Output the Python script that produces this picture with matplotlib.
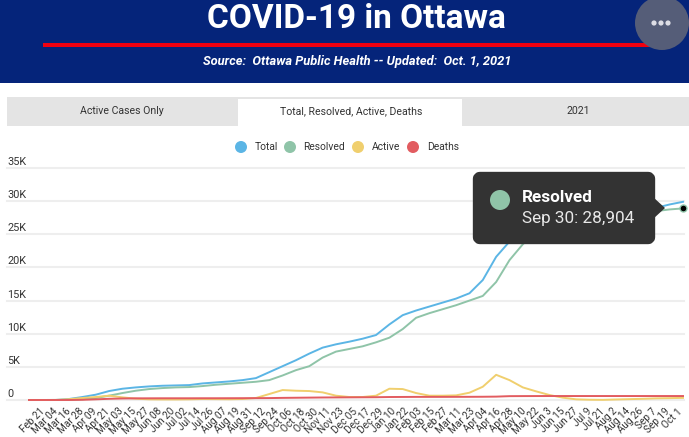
import numpy as np
import matplotlib.pyplot as plt
from matplotlib.patches import Rectangle, Circle, FancyBboxPatch, Polygon

plt.rcParams['font.family'] = ['Roboto', 'DejaVu Sans']

# Valeurs
tick_labels = ["Feb 21", "Mar 04", "Mar 16", "Mar 28", "Apr 09", "Apr 21", "May 03", "May 15", "May 27", "Jun 08",
               "Jun 20", "Jul 02", "Jul 14", "Jul 26", "Aug 07", "Aug 19", "Aug 31", "Sep 12", "Sep 24", "Oct 06",
               "Oct 18", "Oct 30", "Nov 11", "Nov 23", "Dec 05", "Dec 17", "Dec 29", "Jan 10", "Jan 22", "Feb 03",
               "Feb 15", "Feb 27", "Mar 11", "Mar 23", "Apr 04", "Apr 16", "Apr 28", "May 10", "May 22", "Jun 3",
               "Jun 15", "Jun 27", "Jul 9", "Jul 21", "Aug 2", "Aug 14", "Aug 26", "Sep 7", "Sep 19", "Oct 1"]
total = [0, 0, 10, 150, 450, 800, 1350, 1700, 1900, 2050,
         2150, 2200, 2250, 2500, 2650, 2800, 3000, 3300, 4200, 5100,
         6000, 7000, 7900, 8400, 8800, 9250, 9800, 11400, 12800, 13500,
         14100, 14700, 15300, 16100, 18100, 21600, 23900, 26500, 27400, 27800,
         27950, 28050, 28150, 28200, 28300, 28400, 28600, 29000, 29500, 29900]
resolved = [0, 0, 0, 0, 100, 300, 650, 1050, 1400, 1650,
            1800, 1900, 1950, 2100, 2300, 2450, 2600, 2750, 3000, 3700,
            4500, 5100, 6400, 7300, 7700, 8100, 8700, 9400, 10700, 12400,
            13100, 13700, 14300, 15000, 15700, 17800, 21100, 23500, 25300, 26600,
            27400, 27800, 27950, 28000, 28100, 28200, 28350, 28500, 28750, 28904]
active = [0, 0, 10, 120, 300, 450, 650, 400, 200, 100,
          80, 80, 100, 150, 130, 110, 150, 300, 900, 1500,
          1400, 1350, 1150, 650, 450, 450, 650, 1700, 1650, 1050,
          650, 650, 700, 1100, 2000, 3800, 3000, 1900, 1300, 750,
          350, 100, 40, 20, 80, 130, 180, 250, 280, 320]
deaths = [0, 0, 0, 0, 30, 100, 180, 230, 250, 255,
          260, 260, 260, 265, 265, 270, 275, 280, 290, 320,
          340, 360, 380, 390, 400, 410, 420, 450, 460, 470,
          470, 470, 475, 480, 490, 510, 580, 590, 595, 600,
          600, 600, 600, 600, 600, 600, 600, 600, 600, 600]
y_ticks = [0, 5000, 10000, 15000, 20000, 25000, 30000, 35000]
y_labels = ["0", "5K", "10K", "15K", "20K", "25K", "30K", "35K"]
legend_names = ["Total", "Resolved", "Active", "Deaths"]
colors = ["#5BB5E5", "#8FC4A8", "#F0CF6E", "#E25C60"]

W, H = 689, 437
fig = plt.figure(figsize=(W / 100, H / 100), dpi=100)

# Graphique
top, bottom = 168, 400
ax = fig.add_axes([7 / W, (H - bottom) / H, 677 / W, (bottom - top) / H])
x = np.arange(len(tick_labels))
step = 654 / 49
ax.set_xlim(-22 / step, 49 + 1 / step)
ax.set_ylim(0, 35000)
ax.set_yticks(y_ticks)
ax.set_yticklabels([])
ax.set_xticks([])
ax.grid(axis="y", color="#EEEEEE", lw=1.5)
for g in ax.get_ygridlines():
    g.set_clip_on(False)
ax.set_axisbelow(True)
for s in ax.spines.values():
    s.set_visible(False)
ax.tick_params(length=0)
for series, c in zip([total, resolved, active, deaths], colors):
    ax.plot(x, series, color=c, lw=1.4, clip_on=False)
ax.plot(x[-1], resolved[-1], "o", ms=5, color="black", mec=colors[1], mew=1, clip_on=False, zorder=5)
for v, lab in zip(y_ticks, y_labels):
    ax.annotate(lab, (0, v), xycoords=("axes fraction", "data"), xytext=(0, 4.3), textcoords="offset points",
                fontsize=7.8, color="#333333", va="center", ha="left")

# Les libellés de l'axe x n'ont pas le même pas que les points
lab_step = 638 / 49
lab = ax.twiny()
lab.set_xlim((7 - 43) / lab_step, (684 - 43) / lab_step)
lab.xaxis.set_ticks_position("bottom")
for s in lab.spines.values():
    s.set_visible(False)
lab.set_xticks(x)
lab.set_xticklabels(tick_labels, rotation=45, ha="right", va="center", rotation_mode="anchor",
                    fontsize=7.2, color="#333333")
lab.tick_params(axis="x", length=0, pad=7)

# Habillage en pixels
ov = fig.add_axes([0, 0, 1, 1], zorder=10)
ov.set_xlim(0, W)
ov.set_ylim(H, 0)
ov.axis("off")
ov.patch.set_alpha(0)

ov.add_patch(Rectangle((0, 0), W, 83, color="#05247A", lw=0))
ov.add_patch(Rectangle((43, 42.5), 614, 4, color="#F00010", lw=0))
ov.text(356, 19, "COVID-19 in Ottawa", color="white", fontsize=24, fontweight="bold", ha="center", va="center")
ov.text(357, 62, "Source:  Ottawa Public Health -- Updated:  Oct. 1, 2021", color="white", fontsize=9.3,
        fontweight="bold", fontstyle="italic", ha="center", va="center")
ov.add_patch(Circle((662, 23), 27, color="#555D78", lw=0))
for dx in (-7, 0, 7):
    ov.add_patch(Circle((661 + dx, 23), 2.6, color="#DDDDE5", lw=0))

ov.add_patch(Rectangle((7, 97), W - 7, 29, color="#E4E4E4", lw=0))
ov.add_patch(Rectangle((238, 99), 224, 28, color="white", lw=0))
ov.text(122, 111.5, "Active Cases Only", fontsize=7.6, color="#333333", ha="center", va="center")
ov.text(351, 111.5, "Total, Resolved, Active, Deaths", fontsize=7.6, color="#333333", ha="center", va="center")
ov.text(578, 111.5, "2021", fontsize=7.6, color="#333333", ha="center", va="center")

for cx, tx, name, c in zip([241, 290, 358, 413], [255, 303, 372, 427], legend_names, colors):
    ov.add_patch(Circle((cx, 147), 6, color=c, lw=0))
    ov.text(tx, 147, name, fontsize=7.4, color="#333333", ha="left", va="center")

# Infobulle
ov.add_patch(FancyBboxPatch((477, 176), 174, 64, boxstyle="round,pad=0,rounding_size=3", mutation_aspect=1,
                            fc="#333333", ec="#333333", lw=6, joinstyle="round"))
ov.add_patch(Polygon([(653, 197), (665, 208), (653, 219)], color="#333333", lw=0))
ov.add_patch(Circle((500, 200), 10, color=colors[1], lw=0))
ov.text(522, 198, "Resolved", fontsize=12.3, fontweight="bold", color="white", ha="left", va="center")
ov.text(522, 219, "Sep 30: 28,904", fontsize=12.3, color="#E8E8E8", ha="left", va="center")

fig.savefig("out.png", dpi=100)
